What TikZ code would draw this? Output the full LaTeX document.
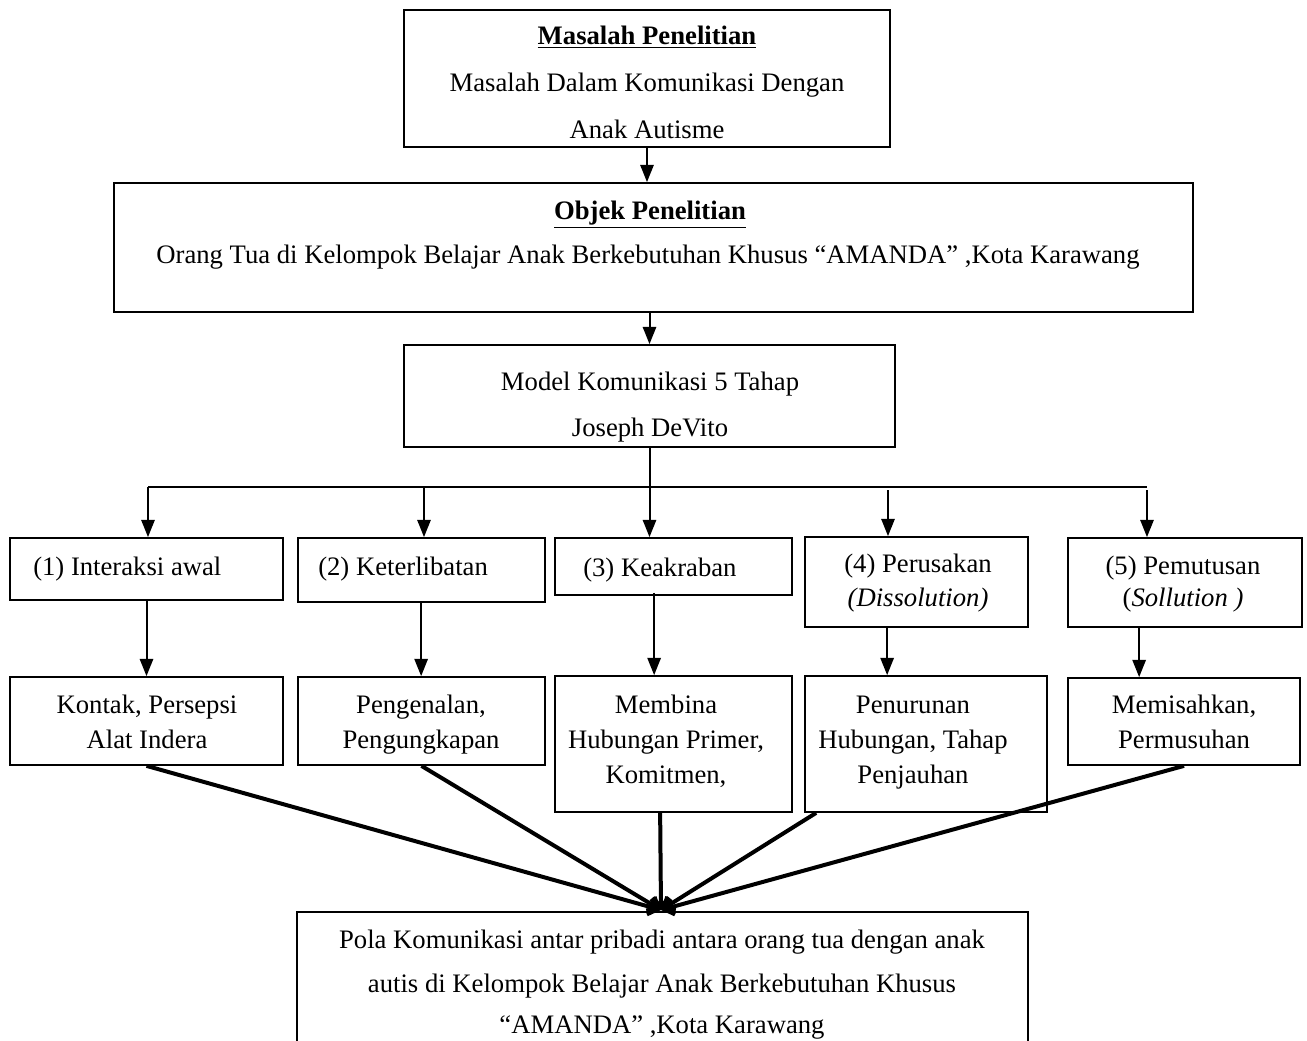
\documentclass[tikz,border=0pt]{standalone}
\usepackage{fontspec}
\setmainfont{Liberation Serif}
\usetikzlibrary{arrows.meta,fit,calc}
\begin{document}
\begin{tikzpicture}[x=0.75pt,y=-0.75pt,
  box/.style={draw,line width=1.3pt,inner sep=0pt,fit={#1}},
  txt/.style={inner sep=0pt,anchor=base,font=\fontsize{20}{24}\selectfont},
  txtw/.style={inner sep=0pt,anchor=base west,font=\fontsize{20}{24}\selectfont},
  arr/.style={line width=1.5pt,-{Triangle[width=10pt,length=13pt]}},
  plain/.style={line width=1.5pt},
  conv/.style={line width=3pt,-{Straight Barb[length=7pt,width=12pt]}}]
\path[use as bounding box] (0,0) rectangle (1307,1041);
\clip (0,0) rectangle (1307,1041);
% boxes
\node[box={(404,10) (890,147)}] (b1) {};
\node[box={(114,183) (1193,312)}] (b2) {};
\node[box={(404,345) (895,447)}] (b3) {};
\node[box={(10,538) (283,600)}] (I1) {};
\node[box={(298,538) (545,602)}] (I2) {};
\node[box={(555,538) (792,595)}] (I3) {};
\node[box={(805,537) (1028,627)}] (I4) {};
\node[box={(1068,538) (1302,627)}] (I5) {};
\node[box={(10,677) (283,765)}] (K1) {};
\node[box={(298,677) (545,765)}] (K2) {};
\node[box={(555,676) (792,812)}] (K3) {};
\node[box={(805,676) (1047,812)}] (K4) {};
\node[box={(1068,678) (1300,765)}] (K5) {};
\node[box={(297,912) (1028,1080)}] (fin) {};
% texts
\node[txt] (t1a) at (647,45) {\underline{\textbf{Masalah Penelitian}}};
\node[txt] (t1b) at (647,92) {Masalah Dalam Komunikasi Dengan};
\node[txt] (t1c) at (647,139) {Anak Autisme};
\node[txt] (t2a) at (650,220) {\underline{\textbf{Objek Penelitian}}};
\node[txt] (t2b) at (648,264) {Orang Tua di Kelompok Belajar Anak Berkebutuhan Khusus “AMANDA” ,Kota Karawang};
\node[txt] (t3a) at (650,391) {Model Komunikasi 5 Tahap};
\node[txt] (t3b) at (650,436) {Joseph DeVito};
\node[txtw] (tI1) at (33,575) {(1) Interaksi awal};
\node[txtw] (tI2) at (318,575) {(2) Keterlibatan};
\node[txtw] (tI3) at (583,576) {(3) Keakraban};
\node[txt] (tI4a) at (918,572) {(4) Perusakan};
\node[txt] (tI4b) at (918,606) {\textit{(Dissolution)}};
\node[txt] (tI5a) at (1183,574) {(5) Pemutusan};
\node[txt] (tI5b) at (1183,606) {(\textit{Sollution )}};
\node[txt] (tK1a) at (147,713) {Kontak, Persepsi};
\node[txt] (tK1b) at (147,748) {Alat Indera};
\node[txt] (tK2a) at (421,713) {Pengenalan,};
\node[txt] (tK2b) at (421,748) {Pengungkapan};
\node[txt] (tK3a) at (666,713) {Membina};
\node[txt] (tK3b) at (666,748) {Hubungan Primer,};
\node[txt] (tK3c) at (666,783) {Komitmen,};
\node[txt] (tK4a) at (913,713) {Penurunan};
\node[txt] (tK4b) at (913,748) {Hubungan, Tahap};
\node[txt] (tK4c) at (913,783) {Penjauhan};
\node[txt] (tK5a) at (1184,713) {Memisahkan,};
\node[txt] (tK5b) at (1184,748) {Permusuhan};
\node[txt] (tFa) at (662,948) {Pola Komunikasi antar pribadi antara orang tua dengan anak};
\node[txt] (tFb) at (662,992) {autis di Kelompok Belajar Anak Berkebutuhan Khusus};
\node[txt] (tFc) at (662,1033) {“AMANDA” ,Kota Karawang};
% top connectors
\draw[arr] (b1.south) -- (b1.south |- b2.north);
\draw[arr] (b3.north |- b2.south) -- (b3.north);
% bus
\coordinate (busL) at (148,487);
\coordinate (busR) at (1147,487);
\coordinate (a2) at (424,487);
\coordinate (a4) at (888,490);
\coordinate (a5) at (1147,490);
\draw[plain] (busL) -- (busR);
\draw[arr] (b3.south) -- (b3.south |- I3.north);
\draw[arr] (busL) -- (busL |- I1.north);
\draw[arr] (a2) -- (a2 |- I2.north);
\draw[arr] (a4) -- (a4 |- I4.north);
\draw[arr] (a5) -- (a5 |- I5.north);
% row1 to row2
\coordinate (c1) at (I1.south);
\coordinate (c2) at ($(I2.south west)+(124,0)$);
\coordinate (c3) at ($(I3.south west)+(100,-3)$);
\coordinate (c4) at ($(I4.south west)+(83,0)$);
\coordinate (c5) at ($(I5.south west)+(72,0)$);
\draw[arr] (c1) -- (c1 |- K1.north);
\draw[arr] (c2) -- (c2 |- K2.north);
\draw[arr] (c3) -- (c3 |- K3.north);
\draw[arr] (c4) -- (c4 |- K4.north);
\draw[arr] (c5) -- (c5 |- K5.north);
% converging
\coordinate (cv) at (661,910);
\coordinate (k3s) at ($(K3.south west)+(106,0)$);
\coordinate (k4s) at ($(K4.south west)+(12,0)$);
\draw[conv] (K1.south) -- (cv);
\draw[conv] (K2.south) -- (cv);
\draw[conv] (k3s) -- (cv);
\draw[conv] (k4s) -- (cv);
\draw[conv] (K5.south) -- (cv);
\end{tikzpicture}
\end{document}
